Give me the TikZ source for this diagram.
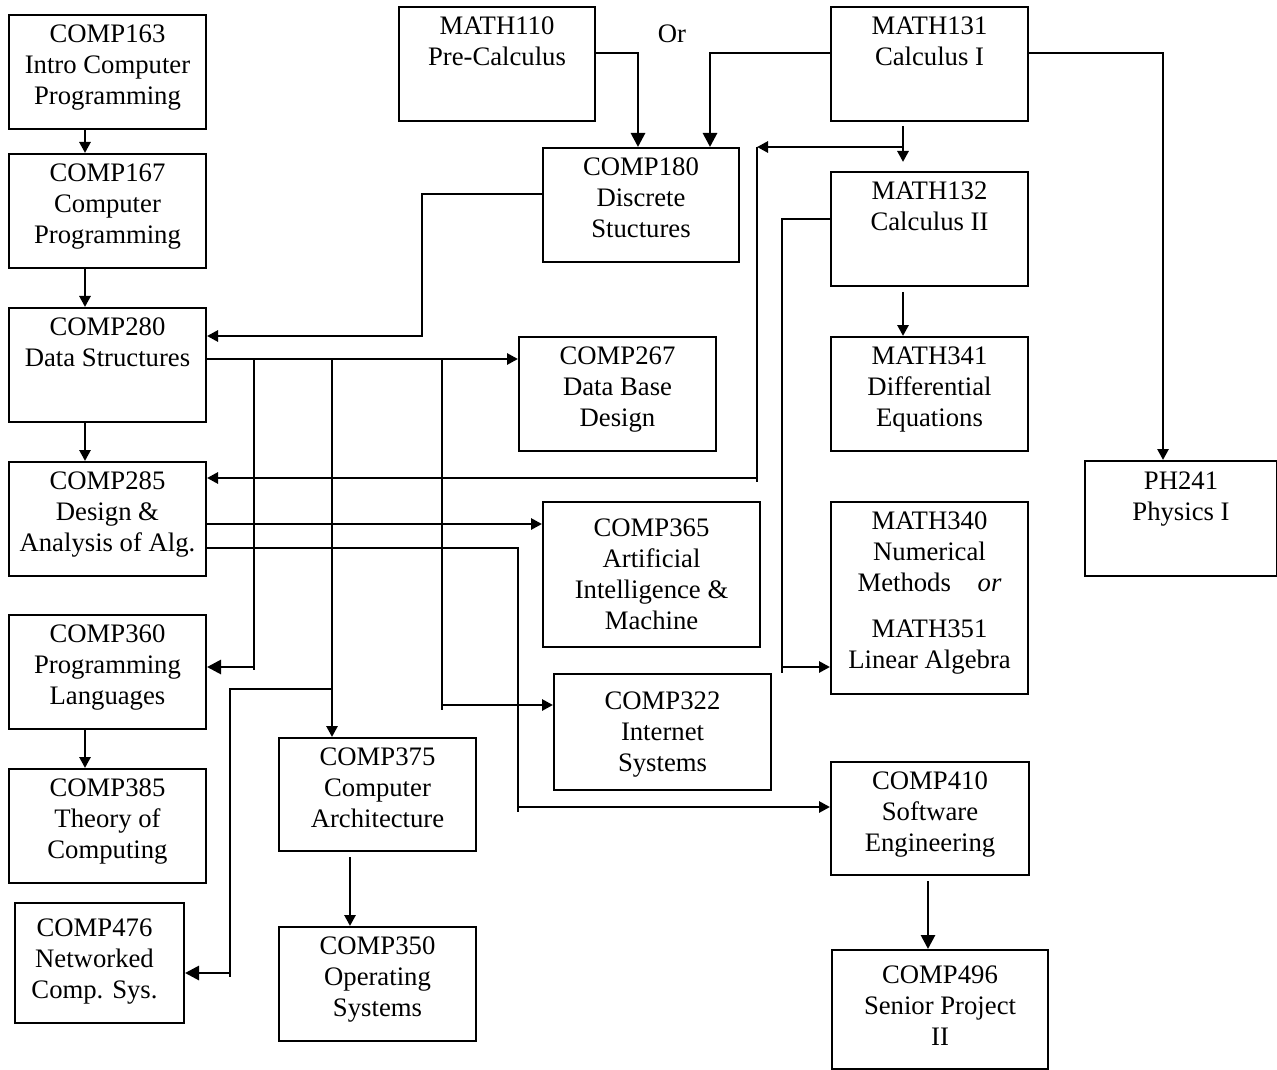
\documentclass[tikz,border=0pt]{standalone}
\usepackage{fontspec}
\setmainfont{Liberation Serif}
\usetikzlibrary{arrows.meta}

\tikzset{
  course/.style={draw, line width=1pt, inner sep=0pt, anchor=north west},
  txt/.style={anchor=north, inner sep=0pt, yshift=-5pt, align=center,
    font=\fontsize{13.35pt}{15.5pt}\selectfont},
  wire/.style={line width=1.4pt},
  thinwire/.style={line width=0.8pt},
  link/.style={wire, -{Triangle[length=5.5pt,width=5.5pt]}},
  biglink/.style={wire, -{Triangle[length=7pt,width=7pt]}},
}

\begin{document}
\begin{tikzpicture}[x=0.5pt,y=-0.5pt]
\useasboundingbox (0,0) rectangle (1277,1069);
%Left column
  \node[course, minimum width=98.5pt, minimum height=57pt, label={[txt]north:{COMP163\\Intro Computer\\Programming}}] (c163) at (8,14) {};
  \node[course, minimum width=98.5pt, minimum height=57pt, label={[txt]north:{COMP167\\Computer\\Programming}}] (c167) at (8,153) {};
  \node[course, minimum width=98.5pt, minimum height=57pt, label={[txt]north:{COMP280\\Data Structures}}] (c280) at (8,307) {};
  \node[course, minimum width=98.5pt, minimum height=57pt, label={[txt]north:{COMP285\\Design \&\\Analysis of Alg.}}] (c285) at (8,461) {};
  \node[course, minimum width=98.5pt, minimum height=57pt, label={[txt]north:{COMP360\\Programming\\Languages}}] (c360) at (8,614) {};
  \node[course, minimum width=98.5pt, minimum height=57pt, label={[txt]north:{COMP385\\Theory of\\Computing}}] (c385) at (8,768) {};
  \node[course, minimum width=84.5pt, minimum height=60pt, label={[txt,yshift=-3pt,xshift=-2.5pt]north:{COMP476\\Networked\\Comp. Sys.}}] (c476) at (14,902) {};
%Middle
  \node[course, minimum width=98pt, minimum height=57pt, label={[txt]north:{MATH110\\Pre-Calculus}}] (m110) at (398,6) {};
  \node[txt, yshift=5pt] (or) at (672,24) {Or};
  \node[course, minimum width=98pt, minimum height=57pt, label={[txt]north:{COMP180\\Discrete\\Stuctures}}] (c180) at (542,147) {};
  \node[course, minimum width=98.5pt, minimum height=57pt, label={[txt]north:{COMP267\\Data Base\\Design}}] (c267) at (518,336) {};
  \node[course, minimum width=108.5pt, minimum height=72.5pt, label={[txt,yshift=-3.5pt]north:{COMP365\\Artificial\\Intelligence \&\\Machine}}] (c365) at (542,501) {};
  \node[course, minimum width=108.5pt, minimum height=58pt, label={[txt,yshift=-4pt]north:{COMP322\\Internet\\Systems}}] (c322) at (553,673) {};
  \node[course, minimum width=98.5pt, minimum height=56.5pt, label={[txt]north:{COMP375\\Computer\\Architecture}}] (c375) at (278,737) {};
  \node[course, minimum width=98.5pt, minimum height=57pt, label={[txt]north:{COMP350\\Operating\\Systems}}] (c350) at (278,926) {};
%Right
  \node[course, minimum width=98.5pt, minimum height=57pt, label={[txt]north:{MATH131\\Calculus I}}] (m131) at (830,6) {};
  \node[course, minimum width=98.5pt, minimum height=57pt, label={[txt]north:{MATH132\\Calculus II}}] (m132) at (830,171) {};
  \node[course, minimum width=98.5pt, minimum height=57pt, label={[txt]north:{MATH341\\Differential\\Equations}}] (m341) at (830,336) {};
  \node[course, minimum width=98.5pt, minimum height=96pt, label={[txt]north:{MATH340\\Numerical\\Methods\quad\textit{or}\\[7.5pt]MATH351\\Linear Algebra}}] (m340) at (830,501) {};
  \node[course, minimum width=99pt, minimum height=56.5pt, label={[txt]north:{COMP410\\Software\\Engineering}}] (c410) at (830,761) {};
  \node[course, minimum width=108pt, minimum height=59.5pt, label={[txt,yshift=-3pt]north:{COMP496\\Senior Project\\II}}] (c496) at (831,949) {};
  \node[course, minimum width=96pt, minimum height=57.5pt, label={[txt,yshift=-0.5pt]north:{PH241\\Physics I}}] (ph241) at (1084,460) {};

%bend points
  \coordinate (colA) at (85,0);
  \coordinate (inA) at (638,53);
  \coordinate (inB) at (710,53);
  \coordinate (downA) at (903,147);
  \coordinate (turnA) at (757,147);
  \coordinate (turnB) at (757,482);
  \coordinate (turnC) at (757,478);
  \coordinate (phA) at (1163,53);
  \coordinate (calB) at (782,219);
  \coordinate (calC) at (782,673);
  \coordinate (calD) at (782,667);
  \coordinate (dsA) at (422,194);
  \coordinate (dsB) at (422,336);
  \coordinate (busY) at (0,359);
  \coordinate (plA) at (254,359);
  \coordinate (plB) at (254,670);
  \coordinate (plC) at (254,667);
  \coordinate (caA) at (332,359);
  \coordinate (nwA) at (332,689);
  \coordinate (nwB) at (230,689);
  \coordinate (nwC) at (230,977);
  \coordinate (nwD) at (230,973);
  \coordinate (isA) at (442,359);
  \coordinate (isB) at (442,710);
  \coordinate (isC) at (442,705);
  \coordinate (aiA) at (0,524);
  \coordinate (seA) at (518,548);
  \coordinate (seB) at (518,812);
  \coordinate (seC) at (518,807);
  \coordinate (osA) at (350,0);
  \coordinate (spA) at (928,0);

%Left column arrows
  \draw[link] (c163.south -| colA) -- (c167.north -| colA);
  \draw[link] (c167.south -| colA) -- (c280.north -| colA);
  \draw[link] (c280.south -| colA) -- (c285.north -| colA);
  \draw[link] (c360.south -| colA) -- (c385.north -| colA);
%Into COMP180
  \draw[biglink] (m110.east |- inA) -| (c180.north -| inA);
  \draw[biglink] (m131.west |- inB) -| (c180.north -| inB);
%Calculus chain
  \draw[link, shorten <=2pt, shorten >=4.5pt] (m131.south -| downA) -- (m132.north -| downA);
  \draw[link, shorten <=2.5pt] (m132.south -| downA) -- (m341.north -| downA);
  \draw[link] (downA) -- (turnA);
  \draw[wire] (turnA) -- (turnB);
  \draw[link] (turnC) -- (c285.east |- turnC);
  \draw[link] (m131.east |- phA) -| (ph241.north -| phA);
  \draw[wire] (m132.west |- calB) -- (calB) -- (calC);
  \draw[link] (calD) -- (m340.west |- calD);
%COMP180 to COMP280
  \draw[link] (c180.west |- dsA) -- (dsA) -- (dsB) -- (c280.east |- dsB);
%COMP280 bus
  \draw[link] (c280.east |- busY) -- (c267.west |- busY);
  \draw[wire] (plA) -- (plB);
  \draw[biglink] (plC) -- (c360.east |- plC);
  \draw[link] (caA) -- (c375.north -| caA);
  \draw[thinwire] (nwA) -- (nwB) -- (nwC);
  \draw[biglink] (nwD) -- (c476.east |- nwD);
  \draw[wire] (isA) -- (isB);
  \draw[link] (isC) -- (c322.west |- isC);
%COMP285 out
  \draw[link] (c285.east |- aiA) -- (c365.west |- aiA);
  \draw[thinwire] (c285.east |- seA) -- (seA) -- (seB);
  \draw[link] (seC) -- (c410.west |- seC);
%Lower arrows
  \draw[link, shorten <=2.5pt] (c375.south -| osA) -- (c350.north -| osA);
  \draw[biglink, shorten <=2.5pt] (c410.south -| spA) -- (c496.north -| spA);
\end{tikzpicture}
\end{document}
